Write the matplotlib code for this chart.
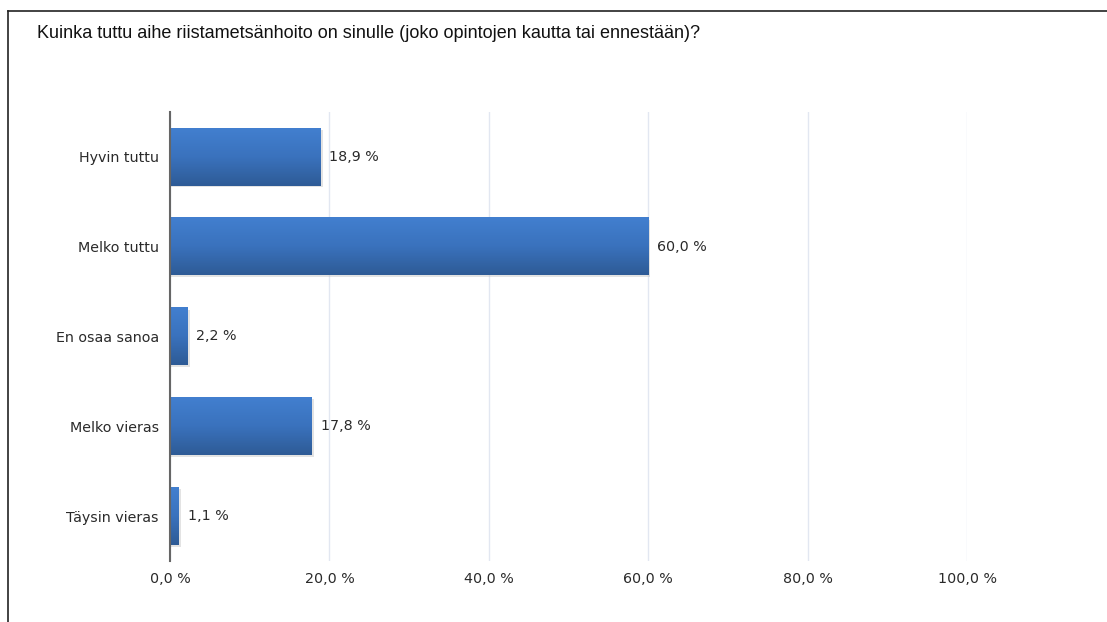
import numpy as np
import matplotlib.pyplot as plt
from matplotlib.colors import LinearSegmentedColormap
from matplotlib.lines import Line2D

# Kyselyn vastausjakauma
categories = ['Hyvin tuttu', 'Melko tuttu', 'En osaa sanoa', 'Melko vieras', 'Täysin vieras']
shares = [18.9, 60.0, 2.2, 17.8, 1.1]
xticks = [0, 20, 40, 60, 80, 100]
title = 'Kuinka tuttu aihe riistametsänhoito on sinulle (joko opintojen kautta tai ennestään)?'

def fi(v):
    return ('%.1f %%' % v).replace('.', ',')

fig = plt.figure(figsize=(11.07, 6.22), dpi=100)
W, H = 1107, 622
ax = fig.add_axes([170 / W, 1 - 561 / H, (967 - 170) / W, (561 - 112) / H])

ypos = np.arange(len(categories))
bar_h = 0.64
grad = LinearSegmentedColormap.from_list('bar', ['#427fcf', '#3a72bd', '#2e5b96'])
g = np.linspace(0, 1, 64).reshape(-1, 1)
fs = 10.3
tc = '#2a2a2a'

for y, v in zip(ypos, shares):
    # pieni varjo palkin alle
    ax.add_patch(plt.Rectangle((0, y - bar_h / 2 + 0.02), v + 0.25, bar_h,
                               color='#c8c8c8', alpha=0.5, lw=0, zorder=2))
    ax.imshow(g, cmap=grad, aspect='auto', zorder=3,
              extent=(0, v, y + bar_h / 2, y - bar_h / 2), interpolation='bilinear')
    ax.text(v + 1.1, y, fi(v), va='center', ha='left', fontsize=fs,
            family='DejaVu Sans', color=tc)

ax.set_xlim(0, 100)
ax.set_ylim(len(categories) - 0.5, -0.5)
ax.set_xticks(xticks)
ax.set_xticklabels([fi(t) for t in xticks], fontsize=fs, family='DejaVu Sans', color=tc)
ax.set_yticks(ypos)
ax.set_yticklabels(categories, fontsize=fs, family='DejaVu Sans', color=tc)
ax.tick_params(length=0, axis='x', pad=8)
ax.tick_params(length=0, axis='y', pad=8)
ax.grid(axis='x', color='#e2e7f1', lw=1, zorder=0)
ax.set_axisbelow(True)
for s in ['top', 'right', 'bottom']:
    ax.spines[s].set_visible(False)
ax.spines['left'].set_color('#666666')
ax.spines['left'].set_linewidth(1.5)
ax.spines['left'].set_zorder(4)

fig.text(37 / W, 1 - 34 / H, title, fontsize=13, family='Liberation Sans',
         ha='left', va='center', color='#111111')

# kehys ylä- ja vasemmalla reunalla
fig.add_artist(Line2D([8 / W, 1], [1 - 11 / H, 1 - 11 / H], color='#222222', lw=1.2))
fig.add_artist(Line2D([8 / W, 8 / W], [0, 1 - 11 / H], color='#222222', lw=1.2))

fig.savefig('out.png', dpi=100)
